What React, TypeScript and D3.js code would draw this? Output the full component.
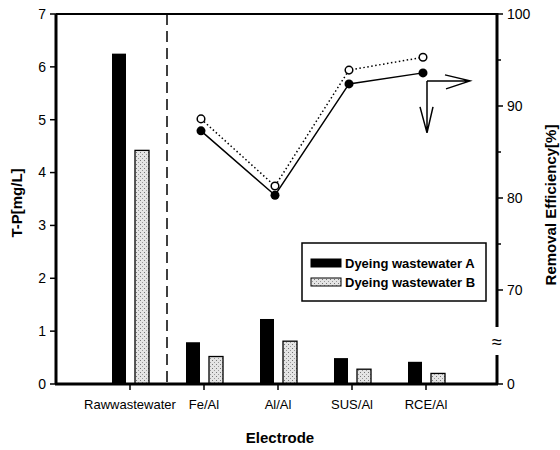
import React, { useEffect, useRef } from 'react';
import * as d3 from 'd3';

const categories = ['Rawwastewater', 'Fe/Al', 'Al/Al', 'SUS/Al', 'RCE/Al'];
const tpA = [6.25, 0.79, 1.23, 0.49, 0.42];
const tpB = [4.42, 0.52, 0.81, 0.28, 0.2];
const effCats = ['Fe/Al', 'Al/Al', 'SUS/Al', 'RCE/Al'];
const effA = [87.3, 80.3, 92.4, 93.6];
const effB = [88.6, 81.3, 93.9, 95.3];
const leftTicks = [0, 1, 2, 3, 4, 5, 6, 7];
const rightTicks = [70, 80, 90, 100];
const rightMinor = [75, 85, 95];

const FONT = "'Liberation Sans', Arial, sans-serif";

const App: React.FC = () => {
  const svgRef = useRef<SVGSVGElement>(null);

  useEffect(() => {
    const W = 560, H = 450;
    const left = 56, right = 497, top = 14, bottom = 384;

    const svg = d3.select(svgRef.current).attr('width', W).attr('height', H).html('');

    // stippled fill for series B
    const pat = svg.append('defs').append('pattern')
      .attr('id', 'dots').attr('patternUnits', 'userSpaceOnUse')
      .attr('width', 4).attr('height', 4);
    pat.append('rect').attr('width', 4).attr('height', 4).attr('fill', '#e4e4e4');
    pat.append('rect').attr('x', 0).attr('y', 0).attr('width', 1).attr('height', 1).attr('fill', '#777');
    pat.append('rect').attr('x', 2).attr('y', 2).attr('width', 1).attr('height', 1).attr('fill', '#999');

    // scales
    const x = d3.scalePoint<string>().domain(['_l', ...categories, '_r']).range([left, 500]);
    const y = d3.scaleLinear().domain([0, 7]).range([bottom, top]);
    const yR = d3.scaleLinear().domain([70, 100]).range([290, top]);

    const g = svg.append('g');

    // bars
    const barW = 14;
    g.selectAll('rect.a').data(categories).enter().append('rect')
      .attr('x', d => x(d)! - 18).attr('width', barW)
      .attr('y', (d, i) => y(tpA[i])).attr('height', (d, i) => bottom - y(tpA[i]))
      .attr('fill', '#000');
    g.selectAll('rect.b').data(categories).enter().append('rect')
      .attr('x', d => x(d)! + 5).attr('width', barW)
      .attr('y', (d, i) => y(tpB[i])).attr('height', (d, i) => bottom - y(tpB[i]))
      .attr('fill', 'url(#dots)').attr('stroke', '#000').attr('stroke-width', 1.3);

    // dashed separator
    const sepX = (x(categories[0])! + x(categories[1])!) / 2;
    g.append('line').attr('x1', sepX).attr('x2', sepX).attr('y1', top).attr('y2', bottom)
      .attr('stroke', '#000').attr('stroke-width', 1.5).attr('stroke-dasharray', '11,6');

    // frame: top, bottom, left
    g.append('line').attr('x1', left).attr('x2', right).attr('y1', top).attr('y2', top)
      .attr('stroke', '#000').attr('stroke-width', 2);
    g.append('line').attr('x1', left - 1).attr('x2', right + 1).attr('y1', bottom).attr('y2', bottom)
      .attr('stroke', '#000').attr('stroke-width', 3);
    g.append('line').attr('x1', left).attr('x2', left).attr('y1', top).attr('y2', bottom)
      .attr('stroke', '#000').attr('stroke-width', 3);

    // left ticks
    leftTicks.forEach(t => {
      g.append('line').attr('x1', left - 6).attr('x2', left).attr('y1', y(t)).attr('y2', y(t))
        .attr('stroke', '#000').attr('stroke-width', 1.5);
      g.append('text').attr('x', left - 10).attr('y', y(t)).attr('dy', '0.35em')
        .attr('text-anchor', 'end').attr('font-family', FONT).attr('font-size', 14).text(t);
    });

    // bottom ticks
    categories.forEach(c => {
      g.append('line').attr('x1', x(c)!).attr('x2', x(c)!).attr('y1', bottom).attr('y2', bottom + 6)
        .attr('stroke', '#000').attr('stroke-width', 1.5);
      g.append('text').attr('x', x(c)!).attr('y', bottom + 25)
        .attr('text-anchor', 'middle').attr('font-family', FONT).attr('font-size', 13).text(c);
    });

    // right axis with break
    const brkTop = 327, brkBot = 355, brkY = 342;
    g.append('line').attr('x1', right).attr('x2', right).attr('y1', top - 1).attr('y2', brkTop)
      .attr('stroke', '#000').attr('stroke-width', 3);
    g.append('line').attr('x1', right).attr('x2', right).attr('y1', brkBot).attr('y2', bottom)
      .attr('stroke', '#000').attr('stroke-width', 3);
    g.append('text').attr('x', right).attr('y', brkY).attr('dy', '0.35em')
      .attr('text-anchor', 'middle').attr('font-family', FONT).attr('font-size', 18).text('≈');
    rightTicks.forEach(t => {
      g.append('line').attr('x1', right).attr('x2', right + 6).attr('y1', yR(t)).attr('y2', yR(t))
        .attr('stroke', '#000').attr('stroke-width', 1.5);
      g.append('text').attr('x', right + 10).attr('y', yR(t)).attr('dy', '0.35em')
        .attr('font-family', FONT).attr('font-size', 14).text(t);
    });
    rightMinor.forEach(t => {
      g.append('line').attr('x1', right).attr('x2', right + 4).attr('y1', yR(t)).attr('y2', yR(t))
        .attr('stroke', '#000').attr('stroke-width', 1.5);
    });
    g.append('line').attr('x1', right).attr('x2', right + 6).attr('y1', bottom).attr('y2', bottom)
      .attr('stroke', '#000').attr('stroke-width', 1.5);
    g.append('text').attr('x', right + 10).attr('y', bottom).attr('dy', '0.35em')
      .attr('font-family', FONT).attr('font-size', 14).text('0');

    // efficiency lines
    const px = (c: string) => x(c)! - 3;
    const line = d3.line<number>().x((d, i) => px(effCats[i])).y(d => yR(d));
    g.append('path').attr('d', line(effB)).attr('fill', 'none').attr('stroke', '#000')
      .attr('stroke-width', 1.5).attr('stroke-dasharray', '1.5,2.5');
    g.append('path').attr('d', line(effA)).attr('fill', 'none').attr('stroke', '#000')
      .attr('stroke-width', 1.5);
    g.selectAll('circle.b').data(effB).enter().append('circle')
      .attr('cx', (d, i) => px(effCats[i])).attr('cy', d => yR(d)).attr('r', 3.8)
      .attr('fill', '#fff').attr('stroke', '#000').attr('stroke-width', 1.5);
    g.selectAll('circle.a').data(effA).enter().append('circle')
      .attr('cx', (d, i) => px(effCats[i])).attr('cy', d => yR(d)).attr('r', 4.5)
      .attr('fill', '#000');

    // arrows from last point of A
    const ax = px(effCats[3]) + 4, ay = yR(effA[3]) + 8;
    const arrow = g.append('g').attr('stroke', '#000').attr('stroke-width', 1.5).attr('fill', 'none');
    arrow.append('path').attr('d', `M${ax},${ay} H${ax + 43} M${ax + 18},${ay - 6} L${ax + 43},${ay} L${ax + 19},${ay + 8}`);
    arrow.append('path').attr('d', `M${ax},${ay} V${ay + 52} M${ax - 7},${ay + 26} L${ax},${ay + 52} L${ax + 6},${ay + 26}`);

    // legend
    const lg = g.append('g').attr('transform', 'translate(302,243)');
    lg.append('rect').attr('width', 184).attr('height', 58).attr('fill', '#fff')
      .attr('stroke', '#000').attr('stroke-width', 1.5);
    const items = [
      { label: 'Dyeing wastewater A', fill: '#000' },
      { label: 'Dyeing wastewater B', fill: 'url(#dots)' },
    ];
    items.forEach((it, i) => {
      const cy = 20 + i * 19;
      lg.append('rect').attr('x', 9).attr('y', cy - 4).attr('width', 30).attr('height', 8)
        .attr('fill', it.fill).attr('stroke', '#000').attr('stroke-width', 1);
      lg.append('text').attr('x', 43).attr('y', cy).attr('dy', '0.35em')
        .attr('font-family', FONT).attr('font-weight', 'bold').attr('font-size', 13).text(it.label);
    });

    // axis titles
    g.append('text').attr('transform', 'translate(22,203) rotate(-90)')
      .attr('text-anchor', 'middle').attr('font-family', FONT).attr('font-weight', 'bold')
      .attr('font-size', 15).text('T-P[mg/L]');
    g.append('text').attr('transform', 'translate(556,205) rotate(-90)')
      .attr('text-anchor', 'middle').attr('font-family', FONT).attr('font-weight', 'bold')
      .attr('font-size', 15).text('Removal Efficiency[%]');
    g.append('text').attr('x', 280).attr('y', 443)
      .attr('text-anchor', 'middle').attr('font-family', FONT).attr('font-weight', 'bold')
      .attr('font-size', 15).text('Electrode');
  }, []);

  return (
    <div style={{ position: 'absolute', left: 0, top: 0, background: '#fff' }}>
      <svg ref={svgRef} style={{ display: 'block' }} />
    </div>
  );
};

export default App;
